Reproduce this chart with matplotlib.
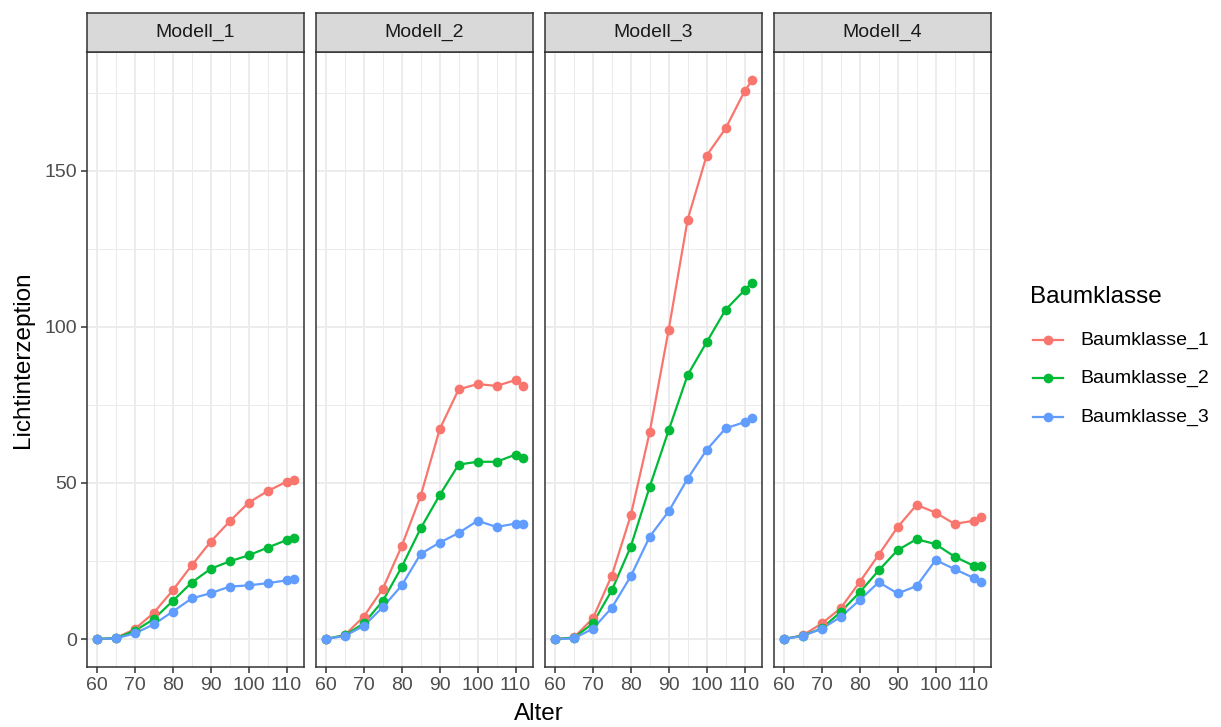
import matplotlib
matplotlib.use("Agg")
import matplotlib.pyplot as plt
from matplotlib.lines import Line2D

plt.rcParams.update({"font.family": ["Liberation Sans", "DejaVu Sans"]})

alter = [60, 65, 70, 75, 80, 85, 90, 95, 100, 105, 110, 112]
modelle = ["Modell_1", "Modell_2", "Modell_3", "Modell_4"]
klassen = ["Baumklasse_1", "Baumklasse_2", "Baumklasse_3"]
farben = ["#F8766D", "#00BA38", "#619CFF"]

# Lichtinterzeption je Modell, eine Liste pro Baumklasse
m1_k1 = [0, 0.3, 3.2, 8.4, 15.6, 23.6, 31.2, 37.7, 43.7, 47.4, 50.4, 51.1]
m1_k2 = [0, 0.3, 2.6, 6.4, 12.2, 18.1, 22.5, 24.9, 26.8, 29.3, 31.7, 32.3]
m1_k3 = [0, 0.2, 1.8, 4.7, 8.8, 13.0, 14.7, 16.8, 17.2, 17.9, 18.8, 19.1]

m2_k1 = [0, 1.3, 7.2, 16.1, 29.8, 45.9, 67.2, 80.0, 81.7, 81.1, 83.0, 81.2]
m2_k2 = [0, 1.2, 5.0, 12.2, 23.1, 35.5, 46.1, 55.9, 56.8, 56.8, 59.1, 58.0]
m2_k3 = [0, 1.0, 4.2, 10.2, 17.2, 27.3, 30.9, 34.0, 37.9, 35.9, 37.0, 37.0]

m3_k1 = [0, 0.5, 6.6, 20.3, 39.6, 66.3, 99.1, 134.4, 154.9, 163.6, 175.5, 179.1]
m3_k2 = [0, 0.4, 5.0, 15.6, 29.6, 48.8, 66.9, 84.6, 95.1, 105.5, 111.8, 114.2]
m3_k3 = [0, 0.2, 3.3, 10.0, 20.1, 32.8, 40.9, 51.4, 60.6, 67.5, 69.5, 70.9]

m4_k1 = [0, 1.2, 5.0, 9.9, 18.3, 27.0, 35.9, 43.0, 40.5, 36.9, 37.9, 39.0]
m4_k2 = [0, 1.1, 3.4, 8.7, 15.0, 22.0, 28.5, 32.0, 30.4, 26.4, 23.5, 23.4]
m4_k3 = [0, 1.0, 3.3, 7.1, 12.5, 18.2, 14.6, 17.0, 25.3, 22.4, 19.6, 18.4]

daten = [[m1_k1, m1_k2, m1_k3], [m2_k1, m2_k2, m2_k3],
         [m3_k1, m3_k2, m3_k3], [m4_k1, m4_k2, m4_k3]]

W, H = 1221, 727
fig = plt.figure(figsize=(W / 100, H / 100), dpi=100)

lefts = [87, 316, 545, 774]
pw = 217
top_px, strip_px, bot_px = 12.5, 52, 667
grid_c = "#EBEBEB"
rand_c = "#333333"

for i, (name, serien) in enumerate(zip(modelle, daten)):
    l = lefts[i]
    ax = fig.add_axes([l / W, 1 - bot_px / H, pw / W, (bot_px - strip_px) / H])
    for y, c in zip(serien, farben):
        ax.plot(alter, y, color=c, lw=1.6, zorder=2)
    for y, c in zip(serien, farben):
        ax.plot(alter, y, "o", color=c, ms=7, mec="none", zorder=3)
    ax.set_xlim(57.4, 114.6)
    ax.set_ylim(-8.96, 188.1)
    ax.set_xticks([60, 70, 80, 90, 100, 110])
    ax.set_xticks([65, 75, 85, 95, 105], minor=True)
    ax.set_yticks([0, 50, 100, 150])
    ax.set_yticks([25, 75, 125, 175], minor=True)
    ax.grid(which="major", color=grid_c, lw=1.3, zorder=0)
    ax.grid(which="minor", color=grid_c, lw=0.7, zorder=0)
    ax.set_axisbelow(True)
    ax.tick_params(which="major", length=4, width=1.1, color=rand_c,
                   labelsize=14, labelcolor="#4D4D4D", pad=3)
    ax.tick_params(which="minor", length=0)
    if i > 0:
        ax.tick_params(axis="y", left=False, labelleft=False)
    for s in ax.spines.values():
        s.set_color(rand_c)
        s.set_linewidth(1.1)

    sx = fig.add_axes([l / W, 1 - strip_px / H, pw / W, (strip_px - top_px) / H])
    sx.set_facecolor("#D9D9D9")
    sx.set_xticks([])
    sx.set_yticks([])
    for s in sx.spines.values():
        s.set_color(rand_c)
        s.set_linewidth(1.1)
    sx.text(0.5, 0.5, name, ha="center", va="center", fontsize=14,
            color="#1A1A1A", transform=sx.transAxes)

fig.text((lefts[0] + lefts[-1] + pw) / 2 / W, 1 - 714 / H, "Alter",
         ha="center", va="center", fontsize=17.5)
fig.text(23 / W, 1 - (strip_px + bot_px) / 2 / H, "Lichtinterzeption",
         ha="center", va="center", rotation=90, fontsize=17.5)

# Legende von Hand: Titel, Schlüssel (Linie + Punkt) und Beschriftung
fig.text(1030 / W, 1 - 297 / H, "Baumklasse", ha="left", va="center",
         fontsize=17.5)
for k, (lab, c) in enumerate(zip(klassen, farben)):
    yk = 1 - (340 + 38.5 * k) / H
    fig.add_artist(Line2D([1033 / W, 1063 / W], [yk, yk], color=c, lw=1.6,
                          transform=fig.transFigure))
    fig.add_artist(Line2D([1048 / W], [yk], color=c, marker="o", ms=7,
                          mec="none", transform=fig.transFigure))
    fig.text(1080 / W, yk, lab, ha="left", va="center", fontsize=14)

fig.savefig("out.png", dpi=100)
